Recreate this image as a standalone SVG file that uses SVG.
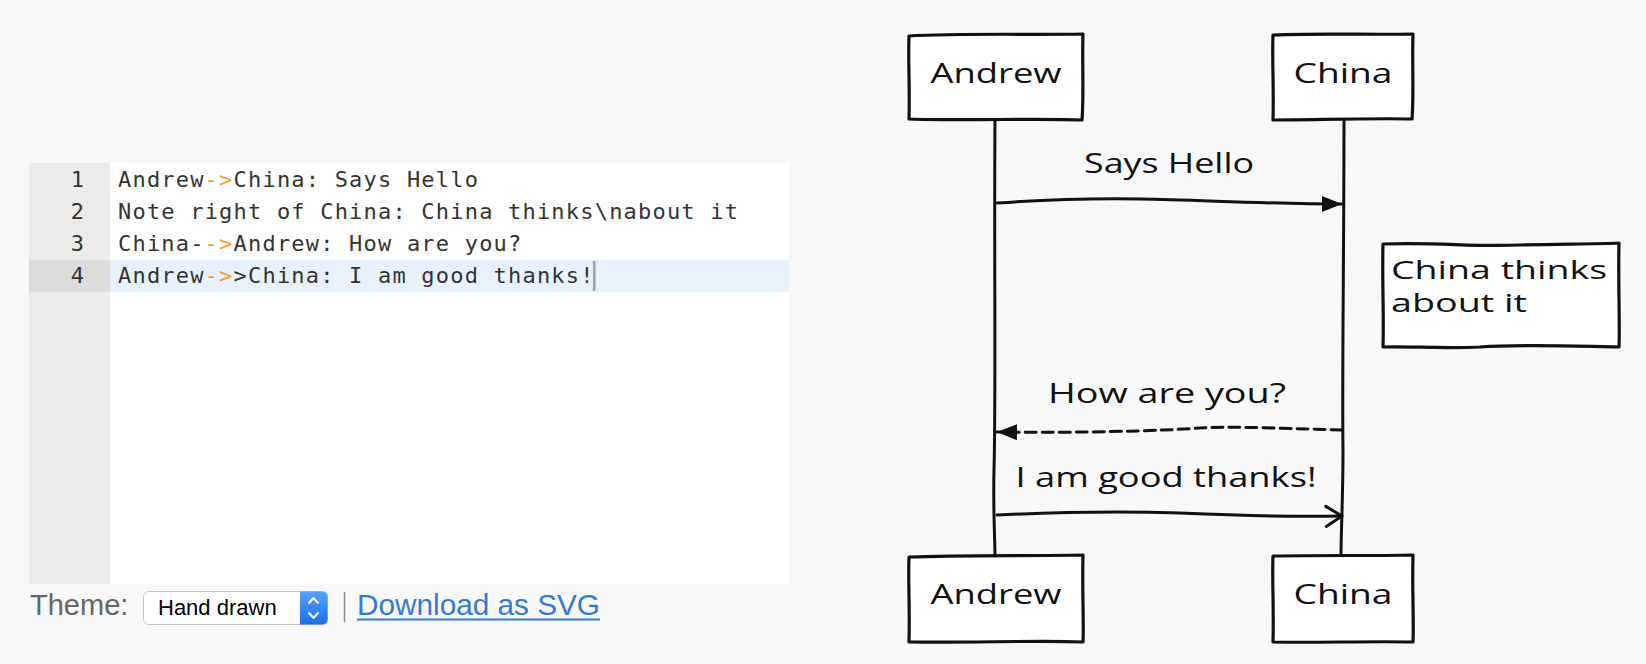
<svg xmlns="http://www.w3.org/2000/svg" width="1646" height="664" viewBox="0 0 1646 664">
<defs>
<style>
.bg{fill:#f8f8f8}
.code{font-family:"DejaVu Sans Mono","Liberation Mono",monospace;font-size:22px;fill:#333;letter-spacing:1.2px}
.ln{font-family:"DejaVu Sans Mono","Liberation Mono",monospace;font-size:22px;fill:#333;text-anchor:end}
.op{fill:#f7a032}
.hand{font-family:"Open Sans","Liberation Sans",sans-serif;font-size:28px;fill:#111;text-anchor:middle}
.note{font-family:"Open Sans","Liberation Sans",sans-serif;font-size:25px;fill:#111}
.box{fill:#fff;stroke:#111;stroke-width:3.2;stroke-linejoin:round}
.ln2{fill:none;stroke:#111;stroke-width:3;stroke-linecap:round}
.ui{font-family:"Liberation Sans",Arial,sans-serif}
</style>
<linearGradient id="blue" x1="0" y1="0" x2="0" y2="1">
<stop offset="0" stop-color="#55a2fb"/>
<stop offset="1" stop-color="#1a6ff0"/>
</linearGradient>
<marker id="solid" viewBox="0 0 20 16" refX="20" refY="8" markerWidth="20" markerHeight="16" markerUnits="userSpaceOnUse" orient="auto">
<path d="M0,0 L20,8 L0,16 Z" fill="#111"/>
</marker>
<marker id="open" viewBox="0 0 20 24" refX="18" refY="12" markerWidth="20" markerHeight="24" markerUnits="userSpaceOnUse" orient="auto">
<path d="M2,2 L18,12 L2,22" fill="none" stroke="#111" stroke-width="3" stroke-linecap="round" stroke-linejoin="round"/>
</marker>
</defs>
<rect class="bg" x="0" y="0" width="1646" height="664"/>

<g id="editor">
<rect x="29" y="163" width="760" height="421" fill="#fff"/>
<rect x="29" y="163" width="81" height="421" fill="#ebebeb"/>
<rect x="29" y="260" width="81" height="32" fill="#dcdcdc"/>
<rect x="110" y="260" width="679" height="32" fill="#e8f2fe"/>
<text class="ln" x="84" y="187">1</text>
<text class="ln" x="84" y="219">2</text>
<text class="ln" x="84" y="251">3</text>
<text class="ln" x="84" y="283">4</text>
<text class="code" x="118" y="187">Andrew<tspan class="op">-&gt;</tspan>China: Says Hello</text>
<text class="code" x="118" y="219">Note right of China: China thinks\nabout it</text>
<text class="code" x="118" y="251">China-<tspan class="op">-&gt;</tspan>Andrew: How are you?</text>
<text class="code" x="118" y="283">Andrew<tspan class="op">-&gt;</tspan>&gt;China: I am good thanks!</text>
<rect x="593" y="261" width="2.5" height="30" fill="#a0a0a0"/>
</g>

<g id="toolbar">
<text class="ui" x="30" y="615" font-size="29" fill="#666">Theme:</text>
<rect x="143.5" y="591.5" width="184" height="33" rx="5" fill="#fff" stroke="#c4c4c4"/>
<path d="M300,591.5 H322.5 A5,5 0 0 1 327.5,596.5 V619.5 A5,5 0 0 1 322.5,624.5 H300 Z" fill="url(#blue)"/>
<path d="M309,603 L313.5,598 L318,603 M309,613 L313.5,618 L318,613" fill="none" stroke="#fff" stroke-width="2" stroke-linecap="round" stroke-linejoin="round"/>
<text class="ui" x="158" y="615" font-size="22" fill="#000">Hand drawn</text>
<line x1="344.5" y1="592" x2="344.5" y2="622" stroke="#888" stroke-width="1.5"/>
<text class="ui" x="357" y="615" font-size="29.5" fill="#2f7bd9" textLength="243" lengthAdjust="spacingAndGlyphs">Download as SVG</text>
<line x1="357" y1="619.5" x2="600" y2="619.5" stroke="#2f7bd9" stroke-width="1.8"/>
</g>

<g id="connectors">
<path class="ln2" d="M995,120 C994,250 996,400 994,470 C993,510 995,540 995,556"/>
<path class="ln2" d="M1344,120 C1344,250 1342,380 1343,450 C1343,500 1341,530 1341,556"/>
<path class="ln2" d="M997,203 C1040,200 1080,198 1140,199 C1200,200 1270,204 1342,204" marker-end="url(#solid)"/>
<path class="ln2" d="M1342,430 C1300,429 1240,426 1200,428 C1160,431 1080,433 997,432" stroke-dasharray="11,6" marker-end="url(#solid)"/>
<path class="ln2" d="M997,515 C1060,512 1120,511 1180,513 C1250,516 1300,517 1342,516" marker-end="url(#open)"/>
<text class="hand" x="1169" y="173" textLength="170" lengthAdjust="spacingAndGlyphs">Says Hello</text>
<text class="hand" x="1167" y="403" textLength="238" lengthAdjust="spacingAndGlyphs">How are you?</text>
<text class="hand" x="1166" y="487" textLength="301" lengthAdjust="spacingAndGlyphs">I am good thanks!</text>
</g>

<g id="andrew-top">
<path class="box" d="M909,36 C960,33 1030,35 1083,34 C1082,60 1084,95 1082,120 C1040,118 960,121 909,119 C910,90 908,60 909,36 Z"/>
<text class="hand" x="996" y="83" textLength="131" lengthAdjust="spacingAndGlyphs">Andrew</text>
</g>
<g id="china-top">
<path class="box" d="M1273,35 C1320,33 1370,35 1413,34 C1412,60 1414,95 1412,119 C1370,118 1310,120 1273,120 C1274,90 1272,60 1273,35 Z"/>
<text class="hand" x="1343" y="83" textLength="99" lengthAdjust="spacingAndGlyphs">China</text>
</g>
<g id="note">
<path class="box" d="M1383,244 C1440,242 1470,247 1520,245 C1560,244 1600,244 1619,243 C1618,280 1620,320 1619,347 C1570,346 1520,344 1480,347 C1440,349 1410,346 1383,347 C1384,310 1382,280 1383,244 Z"/>
<text class="note" x="1391" y="279" textLength="216" lengthAdjust="spacingAndGlyphs">China thinks</text>
<text class="note" x="1391" y="312" textLength="136" lengthAdjust="spacingAndGlyphs">about it</text>
</g>
<g id="andrew-bottom">
<path class="box" d="M909,557 C960,555 1030,556 1083,555 C1082,590 1084,620 1083,642 C1040,640 970,643 909,642 C910,610 908,580 909,557 Z"/>
<text class="hand" x="996" y="604" textLength="131" lengthAdjust="spacingAndGlyphs">Andrew</text>
</g>
<g id="china-bottom">
<path class="box" d="M1273,556 C1320,555 1370,556 1413,555 C1412,590 1414,620 1413,642 C1370,641 1310,643 1273,642 C1274,610 1272,580 1273,556 Z"/>
<text class="hand" x="1343" y="604" textLength="99" lengthAdjust="spacingAndGlyphs">China</text>
</g>
</svg>
